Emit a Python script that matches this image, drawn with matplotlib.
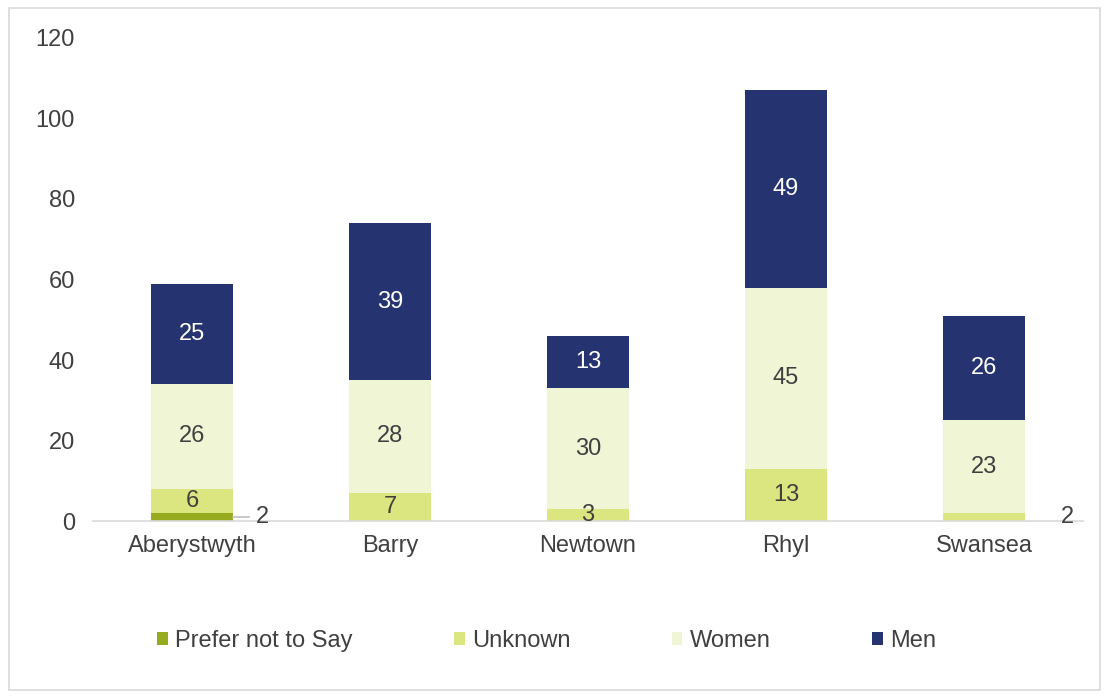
import matplotlib
matplotlib.use('Agg')
import matplotlib.pyplot as plt
from matplotlib.patches import Rectangle, Patch
import numpy as np

plt.rcParams['font.family'] = ['Liberation Sans', 'DejaVu Sans']

sites = ['Aberystwyth', 'Barry', 'Newtown', 'Rhyl', 'Swansea']
prefer_not = [2, 0, 0, 0, 0]
unknown = [6, 7, 3, 13, 2]
women = [26, 28, 30, 45, 23]
men = [25, 39, 13, 49, 26]

series = [
    ('Prefer not to Say', prefer_not, '#97ab1f', '#404040'),
    ('Unknown', unknown, '#dce680', '#404040'),
    ('Women', women, '#f0f5d6', '#404040'),
    ('Men', men, '#253470', 'white'),
]

FS = 17
W = 0.41

fig = plt.figure(figsize=(11.04, 6.97), dpi=100)
ax = fig.add_axes([0.0842, 0.2525, 0.8968, 0.693])

x = np.arange(len(sites))
bottom = np.zeros(len(sites))
for name, vals, color, txt in series:
    vals = np.array(vals, dtype=float)
    ax.bar(x, vals, W, bottom=bottom, color=color, label=name, zorder=2)
    for i, v in enumerate(vals):
        if v == 0:
            continue
        yc = bottom[i] + v / 2
        if v < 3:
            # small segments get their label outside the bar
            if name == 'Prefer not to Say':
                ax.plot([x[i] + W / 2, x[i] + 0.29], [yc, yc], color='#bfbfbf',
                        lw=1.2, zorder=3, clip_on=False)
                off = 0.355
            else:
                off = 0.42
            ax.text(x[i] + off, yc, f'{int(v)}', ha='center', va='center',
                    fontsize=FS, color='#404040', zorder=3)
        else:
            ax.text(x[i], yc, f'{int(v)}', ha='center', va='center',
                    fontsize=FS, color=txt, zorder=3)
    bottom += vals

ax.set_xlim(-0.5, 4.5)
ax.set_ylim(0, 120)
ax.set_yticks(np.arange(0, 121, 20))
ax.set_xticks(x)
ax.set_xticklabels(sites)
ax.tick_params(axis='both', length=0, labelsize=FS, colors='#404040')
ax.tick_params(axis='y', pad=13)
ax.tick_params(axis='x', pad=10)
for s in ['top', 'right', 'left']:
    ax.spines[s].set_visible(False)
ax.spines['bottom'].set_color('#d9d9d9')
ax.spines['bottom'].set_linewidth(1.2)

handles = [Patch(facecolor=c, label=n) for n, _, c, _ in series]
fig.legend(handles=handles, loc='center', bbox_to_anchor=(0.495, 0.08), ncol=4,
           frameon=False, fontsize=FS, handlelength=0.45, handleheight=0.45,
           handletextpad=0.3, columnspacing=4.3, labelcolor='#404040')

# light frame around the whole chart
fig.patches.append(Rectangle((0.008, 0.01), 0.988, 0.978, transform=fig.transFigure,
                             fill=False, edgecolor='#d9d9d9', linewidth=1.2))

fig.savefig('out.png', dpi=100)
